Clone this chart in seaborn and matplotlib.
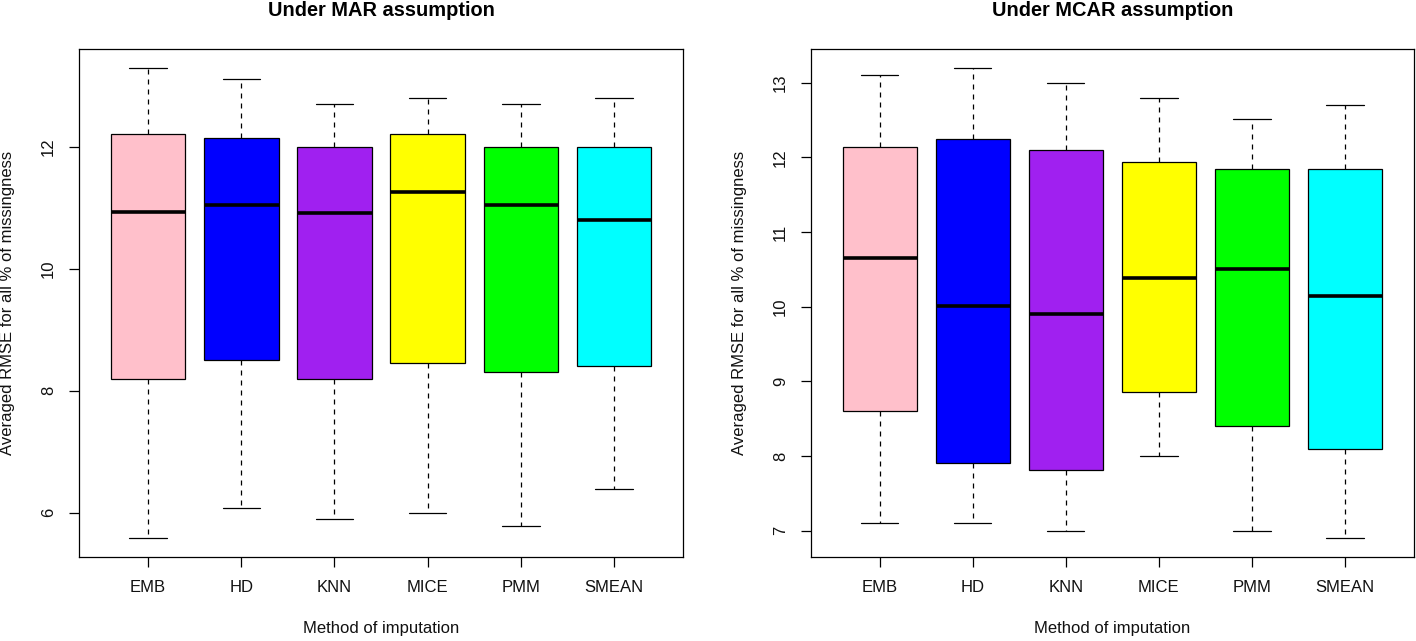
"""
Boxplots of averaged RMSE per imputation method, MAR vs MCAR.
Writes out.png (1416x641).
"""

import matplotlib
matplotlib.use("Agg")
import matplotlib.pyplot as plt
import pandas as pd
import seaborn as sns

sns.set_theme(style="ticks")
plt.rcParams["font.family"] = ["Liberation Sans", "DejaVu Sans"]

METHODS = ["EMB", "HD", "KNN", "MICE", "PMM", "SMEAN"]
COLORS  = ["#FFC0CB", "#0000FF", "#A020F0", "#FFFF00", "#00FF00", "#00FFFF"]

# five-number summaries
MAR_LOW    = [5.58, 6.08, 5.89, 6.00, 5.78, 6.38]
MAR_Q1     = [8.19, 8.50, 8.19, 8.45, 8.30, 8.40]
MAR_MEDIAN = [10.94, 11.05, 10.91, 11.26, 11.05, 10.80]
MAR_Q3     = [12.22, 12.15, 12.00, 12.22, 12.00, 12.00]
MAR_HIGH   = [13.30, 13.11, 12.71, 12.81, 12.71, 12.81]

MCAR_LOW    = [7.10, 7.10, 7.00, 8.00, 7.00, 6.90]
MCAR_Q1     = [8.60, 7.91, 7.81, 8.86, 8.40, 8.10]
MCAR_MEDIAN = [10.65, 10.01, 9.90, 10.39, 10.50, 10.15]
MCAR_Q3     = [12.14, 12.25, 12.10, 11.94, 11.85, 11.85]
MCAR_HIGH   = [13.10, 13.20, 13.00, 12.80, 12.51, 12.70]

MAR_YTICKS  = [6, 8, 10, 12]
MCAR_YTICKS = [7, 8, 9, 10, 11, 12, 13]


def long_frame(low, q1, med, q3, high) -> pd.DataFrame:
    # five points per method -> quartiles land exactly on q1/q3
    rows = []
    for i, m in enumerate(METHODS):
        for v in (low[i], q1[i], med[i], q3[i], high[i]):
            rows.append({"method": m, "rmse": v})
    return pd.DataFrame(rows)


def draw_panel(ax, df, title, yticks) -> None:
    sns.boxplot(
        data=df, x="method", y="rmse", hue="method", order=METHODS,
        palette=COLORS, saturation=1, width=0.8, whis=(0, 100),
        linecolor="black", linewidth=0.9, legend=False, ax=ax,
        medianprops={"linewidth": 2.6, "color": "black"},
        whiskerprops={"linestyle": (0, (4, 4)), "linewidth": 0.9},
        capprops={"linewidth": 0.9},
    )
    lo, hi = df["rmse"].min(), df["rmse"].max()
    ext = 0.04 * (hi - lo)
    ax.set_ylim(lo - ext, hi + ext)
    n = len(METHODS)
    ax.set_xlim(-0.5 - 0.04 * n, n - 0.5 + 0.04 * n)
    ax.set_yticks(yticks)
    ax.set_yticklabels([str(t) for t in yticks])

    for side in ("left", "right", "top", "bottom"):
        ax.spines[side].set_visible(True)
        ax.spines[side].set_color("black")
        ax.spines[side].set_linewidth(0.9)
    ax.tick_params(axis="both", length=7.5, width=0.9, color="black",
                   labelsize=12, labelcolor="#111111", pad=9)
    ax.tick_params(axis="y", labelrotation=90)
    for lbl in ax.get_yticklabels():
        lbl.set_va("center")

    ax.set_xlabel("Method of imputation", fontsize=12, labelpad=19, color="#111111")
    ax.set_ylabel("Averaged RMSE for all % of missingness", fontsize=12,
                  labelpad=19, color="#111111")
    ax.set_title(title, fontsize=14.4, fontweight="bold", pad=24, color="black")


def main() -> None:
    fig = plt.figure(figsize=(14.16, 6.41), dpi=100)
    ax_mar = fig.add_axes([0.0558, 0.131, 0.4266, 0.7925])
    ax_mcar = fig.add_axes([0.5727, 0.131, 0.4258, 0.7925])

    draw_panel(ax_mar, long_frame(MAR_LOW, MAR_Q1, MAR_MEDIAN, MAR_Q3, MAR_HIGH),
               "Under MAR assumption", MAR_YTICKS)
    draw_panel(ax_mcar, long_frame(MCAR_LOW, MCAR_Q1, MCAR_MEDIAN, MCAR_Q3, MCAR_HIGH),
               "Under MCAR assumption", MCAR_YTICKS)

    fig.savefig("out.png", dpi=100, facecolor="white")
    plt.close(fig)


if __name__ == "__main__":
    main()
